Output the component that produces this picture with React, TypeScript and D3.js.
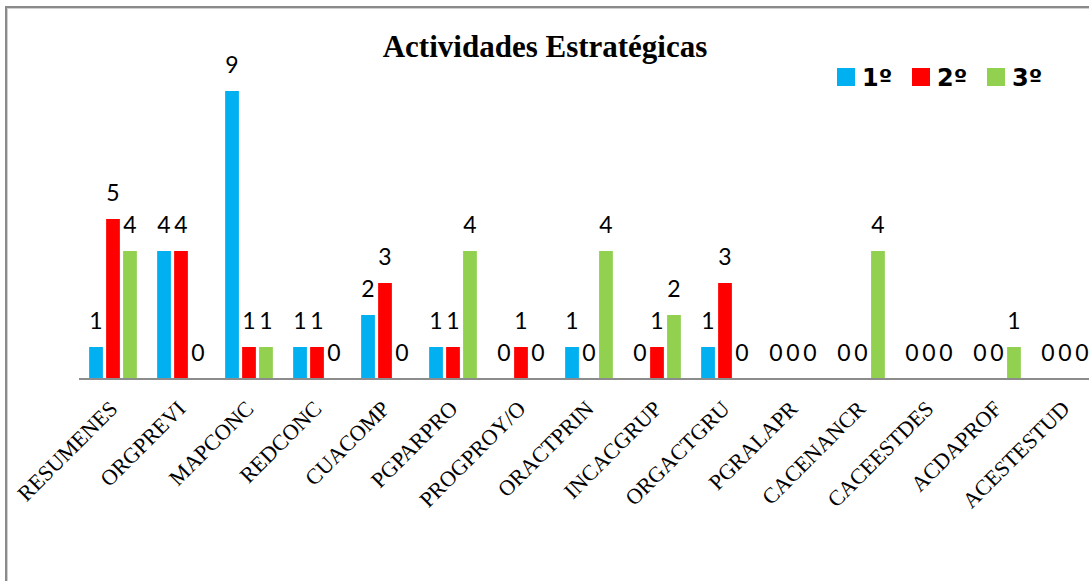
import React from "react";
import * as d3 from "d3";

const categories = [
  "RESUMENES", "ORGPREVI", "MAPCONC", "REDCONC", "CUACOMP", "PGPARPRO", "PROGPROY/O",
  "ORACTPRIN", "INCACGRUP", "ORGACTGRU", "PGRALAPR", "CACENANCR", "CACEESTDES", "ACDAPROF", "ACESTESTUD",
];
const seriesNames = ["1º", "2º", "3º"];
const values1 = [1, 4, 9, 1, 2, 1, 0, 1, 0, 1, 0, 0, 0, 0, 0];
const values2 = [5, 4, 1, 1, 3, 1, 1, 0, 1, 3, 0, 0, 0, 0, 0];
const values3 = [4, 0, 1, 0, 0, 4, 0, 4, 2, 0, 0, 4, 0, 1, 0];
const colors = ["#00B0F0", "#FF0000", "#92D050"];
const title = "Actividades Estratégicas";

const W = 1089;
const H = 581;
const baseY = 379;
const plotLeft = 79;
const bandW = 68;

export default function App() {
  const seriesValues = [values1, values2, values3];
  const x0 = d3
    .scaleBand<string>()
    .domain(categories)
    .range([plotLeft, plotLeft + bandW * categories.length])
    .padding(0);
  const half = 23.85;
  const x1 = d3
    .scaleBand<string>()
    .domain(seriesNames)
    .range([bandW / 2 - half, bandW / 2 + half])
    .paddingInner(0.19)
    .paddingOuter(0);
  const y = d3.scaleLinear().domain([0, 10]).range([baseY, baseY - 320]);

  const legendX = [837, 912, 987];

  return (
    <svg
      width={W}
      height={H}
      style={{ position: "absolute", left: 0, top: 0, background: "#fff" }}
    >
      <rect x={0} y={0} width={W} height={H} fill="#fff" />
      {/* outer border */}
      <rect x={6} y={7} width={1200} height={700} fill="none" stroke="#8a8a8a" strokeWidth={2} />
      <rect x={7.5} y={8.5} width={1200} height={700} fill="none" stroke="#d0d0d0" strokeWidth={1} />

      <text
        x={545}
        y={57}
        textAnchor="middle"
        fontFamily="'Liberation Serif', 'Times New Roman', serif"
        fontWeight="bold"
        fontSize={31}
        fill="#000"
      >
        {title}
      </text>

      {/* legend */}
      {seriesNames.map((s, i) => (
        <g key={s}>
          <rect x={legendX[i]} y={68} width={18} height={18} fill={colors[i]} />
          <text
            x={legendX[i] + 25}
            y={86}
            fontFamily="'DejaVu Sans', 'Open Sans', sans-serif"
            fontWeight="bold"
            fontSize={24}
            fill="#000"
          >
            {s}
          </text>
        </g>
      ))}

      {/* bars */}
      {categories.map((c, ci) => (
        <g key={c} transform={`translate(${x0(c)},0)`}>
          {seriesNames.map((s, si) => {
            const v = seriesValues[si][ci];
            const bx = x1(s)!;
            const bw = x1.bandwidth();
            return (
              <g key={s}>
                {v > 0 && (
                  <rect x={bx} y={y(v)} width={bw} height={baseY - y(v)} fill={colors[si]} />
                )}
                <text
                  x={bx + bw / 2}
                  y={y(v) - 18}
                  textAnchor="middle"
                  fontFamily="Lato, 'Open Sans', sans-serif"
                  fontSize={23}
                  fill="#000"
                >
                  {v}
                </text>
              </g>
            );
          })}
        </g>
      ))}

      {/* axis line */}
      <line x1={plotLeft} x2={W + 20} y1={baseY} y2={baseY} stroke="#8c8c8c" strokeWidth={2} />

      {/* category labels */}
      {categories.map((c) => {
        const cx = x0(c)! + x0.bandwidth() / 2;
        return (
          <text
            key={c}
            transform={`translate(${cx + 6},${410}) rotate(-45)`}
            textAnchor="end"
            fontFamily="'Liberation Serif', 'Times New Roman', serif"
            fontSize={22}
            fill="#000"
          >
            {c}
          </text>
        );
      })}
    </svg>
  );
}
